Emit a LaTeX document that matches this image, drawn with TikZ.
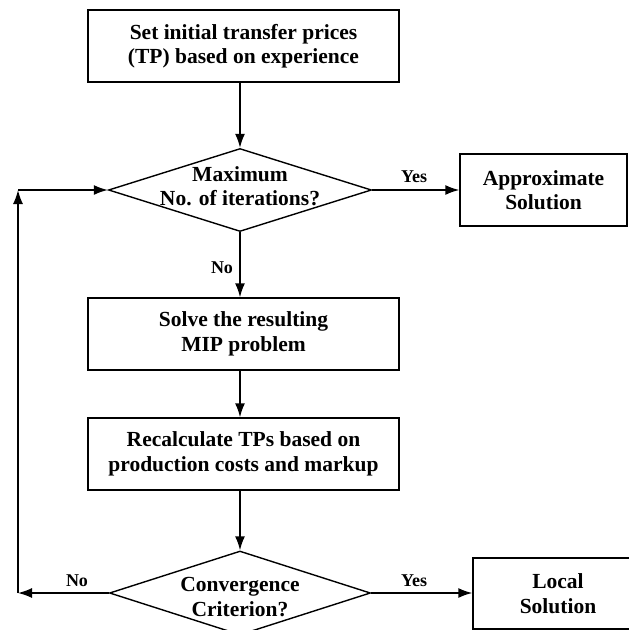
\documentclass[tikz,border=0pt]{standalone}
\usepackage{fontspec}
\setmainfont{Liberation Serif}
\usetikzlibrary{shapes.geometric,arrows.meta}
\begin{document}
\begin{tikzpicture}[x=1pt,y=-1pt,
  every node/.style={font=\fontsize{21.5}{24.5}\selectfont\bfseries},
  box/.style={draw,line width=1.4pt,rectangle,inner sep=0pt,minimum height=72pt,align=center},
  dia/.style={draw,line width=1.4pt,diamond,inner sep=0pt},
  lbl/.style={font=\fontsize{18}{20}\selectfont\bfseries},
  arr/.style={line width=1.5pt,-{Latex[length=14pt,width=10pt]}},
  ln/.style={line width=1.5pt}]
\clip (0,0) rectangle (629,630);
\useasboundingbox (0,0) rectangle (629,630);
\node[box,minimum width=311pt] (b1) at (243.5,46) {Set initial transfer prices\\(TP) based on experience};
\node[dia,minimum width=263pt,minimum height=83pt] (d1) at (240,190) {};
\node[align=center] (t1) at (240,186) {Maximum\\No. of iterations?};
\node[box,minimum width=167pt] (ap) at (543.5,190) {Approximate\\Solution};
\node[box,minimum width=311pt] (b2) at (243.5,334) {Solve the resulting\\MIP problem};
\node[box,minimum width=311pt] (b3) at (243.5,454) {Recalculate TPs based on\\production costs and markup};
\node[dia,minimum width=261pt,minimum height=84pt] (d2) at (240,593) {};
\node[align=center] (t2) at (240,597) {Convergence\\Criterion?};
\node[box,minimum width=170pt,minimum height=71pt] (lo) at (558,593.5) {Local\\Solution};
\coordinate (L1) at (18,593);
\coordinate (L2) at (18,190);
\draw[arr] (d1.north |- b1.south) -- (d1.north);
\draw[arr] (d1.east) -- (ap.west);
\draw[arr] (d1.south) -- (d1.south |- b2.north);
\draw[arr] (d1.south |- b2.south) -- (d1.south |- b3.north);
\draw[arr] (d2.north |- b3.south) -- (d2.north);
\draw[arr] (d2.east) -- (d2.east -| lo.west);
\draw[arr] (d2.west) -- (L1);
\draw[arr] (L1) -- (L2);
\draw[arr] (L2) -- (d1.west);
\node[lbl] (y1) at (414,177) {Yes};
\node[lbl] (n1) at (222,268) {No};
\node[lbl] (n2) at (77,581) {No};
\node[lbl] (y2) at (414,581) {Yes};
\end{tikzpicture}
\end{document}
